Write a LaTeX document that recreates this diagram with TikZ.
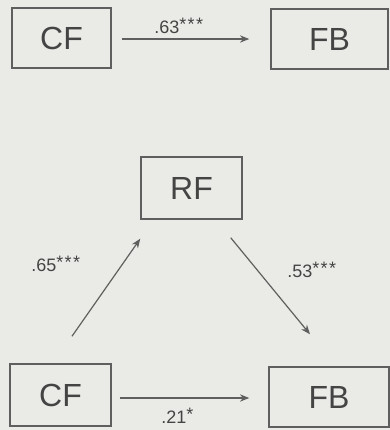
\documentclass[tikz,border=0pt]{standalone}
\usepackage{fontspec}
\setmainfont{Liberation Sans}
\usetikzlibrary{arrows.meta}
\definecolor{paper}{RGB}{234,234,230}
\definecolor{ink}{RGB}{68,68,68}
\definecolor{rule}{RGB}{95,95,95}
% raised significance stars after a coefficient
\newcommand{\sigstars}[1]{\raisebox{2pt}{\addfontfeatures{LetterSpace=8}#1}}
\begin{document}
\begin{tikzpicture}[x=0.75pt,y=-0.75pt,
  var/.style={draw=rule,line width=1.1pt,inner sep=0pt,text=ink,
    font=\fontsize{24}{24}\selectfont},
  path/.style={draw=rule,line width=0.9pt,-{Stealth[length=7pt,width=5.5pt]}},
  coef/.style={text=ink,font=\fontsize{13.5}{15}\selectfont,anchor=base west,inner sep=0pt}]
  \fill[paper] (0,0) rectangle (390,430);
  \useasboundingbox (0,0) rectangle (390,430);

  % total effect
  \node[var,minimum width=74.25pt,minimum height=45pt] (cfA) at (61.5,38) {CF};
  \node[var,minimum width=87.75pt,minimum height=45pt] (fbA) at (329.5,39) {FB};
  \draw[path] ([xshift=7.5pt,yshift=-0.75pt]cfA.east) -- ([xshift=-15.75pt]fbA.west);
  \node[coef] (lA) at (154,33) {.63\sigstars{***}};

  % mediated model
  \node[var,minimum width=75.75pt,minimum height=46.5pt] (rf) at (191.5,188) {RF};
  \node[var,minimum width=75.75pt,minimum height=46.5pt] (cfB) at (60.5,395) {CF};
  \node[var,minimum width=90pt,minimum height=45pt] (fbB) at (329,397) {FB};

  \draw[path] ([xshift=8.6pt,yshift=20.25pt]cfB.north) -- ([yshift=-14.25pt]rf.south west);
  \draw[path] ([xshift=-9pt,yshift=-13.5pt]rf.south east) -- ([xshift=-14.25pt,yshift=24pt]fbB.north);
  \draw[path] ([xshift=6pt,yshift=-2.25pt]cfB.east) -- ([xshift=-14.25pt,yshift=-0.75pt]fbB.west);

  \node[coef] (lB) at (31,271) {.65\sigstars{***}};
  \node[coef] (lC) at (287,277) {.53\sigstars{***}};
  \node[coef] (lD) at (161,423) {.21\sigstars{*}};
\end{tikzpicture}
\end{document}
